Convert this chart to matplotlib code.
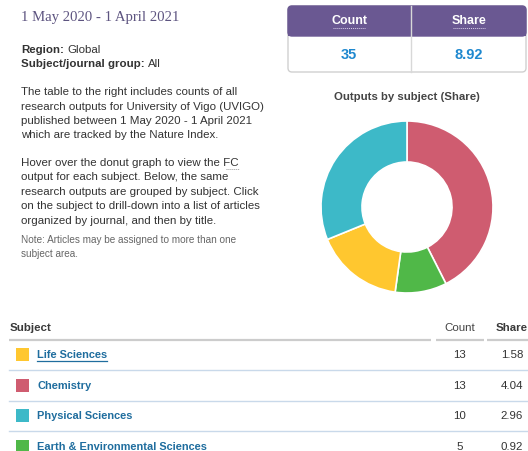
import matplotlib.pyplot as plt
from matplotlib.patches import Rectangle, FancyBboxPatch

# data
subjects = ["Life Sciences", "Chemistry", "Physical Sciences", "Earth & Environmental Sciences"]
counts = [13, 13, 10, 5]
shares = [1.58, 4.04, 2.96, 0.92]
colors = ["#ffc72f", "#cf5c70", "#3db9c8", "#50b848"]
# donut drawing order (clockwise from top)
donut_order = ["Chemistry", "Earth & Environmental Sciences", "Life Sciences", "Physical Sciences"]
total_count = 35
total_share = 8.92

plt.rcParams["font.family"] = ["Liberation Sans", "DejaVu Sans"]

W, H = 528, 452
fig = plt.figure(figsize=(W / 100, H / 100), dpi=100)
ax = fig.add_axes([0, 0, 1, 1])
ax.set_xlim(0, W)
ax.set_ylim(H, 0)
ax.axis("off")
renderer = fig.canvas.get_renderer()

body = "#333333"
fs = 8.25


def right_edge(t):
    bb = t.get_window_extent(renderer=renderer)
    return ax.transData.inverted().transform((bb.x1, bb.y0))[0]


def label_value(x, y, label, value):
    # bold label followed by normal value, placed right after it
    t = ax.text(x, y, label, fontweight="bold", fontsize=fs, color=body, va="center")
    ax.text(right_edge(t) + 3, y, value, fontsize=fs, color=body, va="center")


# left text block
ax.text(21, 17, "1 May 2020 - 1 April 2021", family="Liberation Serif", fontsize=10.6,
        color="#5d5480", va="center")
label_value(21, 50, "Region:", "Global")
label_value(21, 64, "Subject/journal group:", "All")

para1 = ["The table to the right includes counts of all",
         "research outputs for University of Vigo (UVIGO)",
         "published between 1 May 2020 - 1 April 2021",
         "which are tracked by the Nature Index."]
for i, line in enumerate(para1):
    ax.text(21, 92 + i * 14.5, line, fontsize=fs, color=body, va="center")

para2 = ["Hover over the donut graph to view the FC",
         "output for each subject. Below, the same",
         "research outputs are grouped by subject. Click",
         "on the subject to drill-down into a list of articles",
         "organized by journal, and then by title."]
for i, line in enumerate(para2):
    t = ax.text(21, 163 + i * 14.5, line, fontsize=fs, color=body, va="center")
    if i == 0:
        # dotted underline under the "FC" abbreviation
        xe = right_edge(t)
        ax.plot([xe - 13, xe], [170, 170], color="#999999", lw=0.7, ls=(0, (1, 1)))

ax.text(21, 240, "Note: Articles may be assigned to more than one", fontsize=7.2, color="#666666", va="center")
ax.text(21, 254, "subject area.", fontsize=7.2, color="#666666", va="center")

# summary box
purple = "#6a5892"
box = FancyBboxPatch((288, 7), 238, 66, boxstyle="round,pad=0,rounding_size=4",
                     facecolor="white", edgecolor="#d0d0d0", lw=1)
ax.add_patch(box)
hdr = FancyBboxPatch((288, 7), 238, 30, boxstyle="round,pad=0,rounding_size=4",
                     facecolor=purple, edgecolor=purple, lw=1)
ax.add_patch(hdr)
ax.add_patch(Rectangle((288, 27), 238, 10, facecolor=purple, edgecolor="none"))
ax.plot([411, 411], [7, 73], color="#d8d8d8", lw=1)
for cx, lab, val in [(349, "Count", str(total_count)), (469, "Share", f"{total_share:.2f}")]:
    ax.text(cx, 21, lab, color="white", fontweight="bold", fontsize=9, ha="center", va="center")
    ax.plot([cx - 16, cx + 16], [29, 29], color="#d8d0ea", lw=0.7, ls=(0, (1, 1)))
    ax.text(cx, 55, val, color="#1e88cf", fontweight="bold", fontsize=10.5, ha="center", va="center")

ax.text(407, 97, "Outputs by subject (Share)", fontweight="bold", fontsize=8.2,
        color="#444444", ha="center", va="center")

# donut
cx0, cy0, R = 407, 208, 86
dax = fig.add_axes([(cx0 - 95) / W, (H - cy0 - 95) / H, 190 / W, 190 / H])
lookup = dict(zip(subjects, zip(shares, colors)))
dax.pie([lookup[s][0] for s in donut_order], colors=[lookup[s][1] for s in donut_order],
        startangle=90, counterclock=False, radius=R,
        wedgeprops=dict(width=R - 45, edgecolor="white", linewidth=1.2))
dax.set_xlim(-95, 95)
dax.set_ylim(-95, 95)
dax.set_aspect("equal")
dax.axis("off")

# subject table
ax.text(10, 328, "Subject", fontweight="bold", fontsize=fs, color="#3a3a3a", va="center")
ax.text(460, 328, "Count", fontsize=fs, color="#444444", ha="center", va="center")
ax.text(512, 328, "Share", fontweight="bold", fontsize=fs, color="#3a3a3a", ha="center", va="center")
for x0, x1 in [(9, 431), (436, 484), (487, 528)]:
    ax.plot([x0, x1], [341, 341], color="#cccccc", lw=1.6, solid_capstyle="butt")

row_y = [355, 386, 416, 447]
for i, (s, c, sh, col) in enumerate(zip(subjects, counts, shares, colors)):
    y = row_y[i]
    ax.add_patch(Rectangle((16, y - 6.5), 13, 13, facecolor=col, edgecolor="none"))
    t = ax.text(37, y, s, fontweight="bold", fontsize=7.9, color="#1f6d9e", va="center")
    if i == 0:
        ax.plot([37, right_edge(t)], [362, 362], color="#1f6d9e", lw=0.9)
    ax.text(460, y, str(c), fontsize=fs, color=body, ha="center", va="center")
    ax.text(512, y, f"{sh:.2f}", fontsize=fs, color=body, ha="center", va="center")
    if i < 3:
        ax.plot([9, 528], [y + 16, y + 16], color="#c9d9ea", lw=1)

fig.savefig("out.png", dpi=100)
